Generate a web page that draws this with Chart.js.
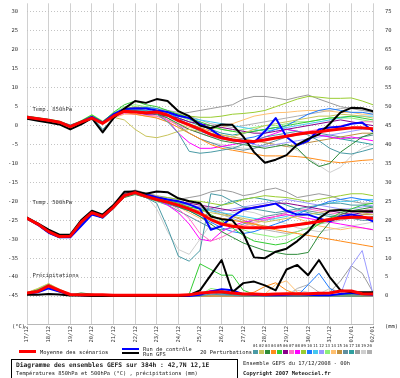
<!DOCTYPE html>
<html><head><meta charset="utf-8">
<script src="https://cdn.jsdelivr.net/npm/chart.js@4"></script>
<style>
body{margin:0;background:#fff;width:400px;height:378px;overflow:hidden;position:relative;font-family:"DejaVu Sans Mono",monospace;color:#222}
#wrap{position:absolute;left:0;top:0;width:400px;height:347px}
.t{position:absolute;white-space:nowrap;font-size:5.4px;line-height:6px}
.b{font-weight:bold}
.ln{position:absolute}
#boxes span{position:absolute;display:block}
</style></head>
<body>
<div id="wrap"><canvas id="c" width="400" height="347"></canvas></div>
<span class="t" style="left:12px;top:323px">(°C)</span>
<span class="t" style="left:385px;top:323px">(mm)</span>
<div class="ln" style="left:19px;top:350px;width:17px;height:3px;background:#ff0000"></div>
<span class="t" style="left:40px;top:349px">Moyenne des scénarios</span>
<div class="ln" style="left:122px;top:347.5px;width:17px;height:2px;background:#0000ff"></div>
<div class="ln" style="left:122px;top:351.5px;width:17px;height:2px;background:#000"></div>
<span class="t" style="left:143px;top:345.5px">Run de contrôle</span>
<span class="t" style="left:143px;top:350.5px">Run GFS</span>
<span class="t" style="left:200px;top:349px">20 Perturbations</span>
<div id="boxes" style="position:absolute;left:253px;top:344px"></div>
<div style="position:absolute;left:11px;top:359px;width:225px;height:30px;border:1px solid #000"></div>
<span class="t b" style="left:16px;top:360.5px;font-size:6.3px;line-height:7px">Diagramme des ensembles GEFS sur 384h : 42,7N 12,1E</span>
<span class="t" style="left:16px;top:369.5px">Températures 850hPa et 500hPa (°C) , précipitations (mm)</span>
<span class="t" style="left:243px;top:359.5px">Ensemble GEFS du 17/12/2008 - 00h</span>
<span class="t b" style="left:243px;top:369.5px">Copyright 2007 Meteociel.fr</span>
<script>
// ---- time axis (forecast hours) and tick labels ----
const hours=[0,12,24,36,48,60,72,84,96,108,120,132,144,156,168,180,192,204,216,228,240,252,264,276,288,300,312,324,336,348,360,372,384];
const dateLabels=['17/12','18/12','19/12','20/12','21/12','22/12','23/12','24/12','25/12','26/12','27/12','28/12','29/12','30/12','31/12','01/01','02/01'];
const tempTicks=[-45,-40,-35,-30,-25,-20,-15,-10,-5,0,5,10,15,20,25,30];
const precipTicks=[0,5,10,15,20,25,30,35,40,45,50,55,60,65,70,75];
const memberNames=['01','02','03','04','05','06','07','08','09','10','11','12','13','14','15','16','17','18','19','20'];
const memberColors=['#4a9aa5','#c8c35a','#2e8b3a','#ff8c1a','#33cc33','#8a008a','#ff6fc8','#ff00ff','#9acd32','#1e7bff','#46c8f0','#9a9aff','#8cf078','#ffc070','#c09040','#5f8f9f','#2f9f9f','#9a9a9a','#cfcfcf','#b0b0b0'];

// ---- 850 hPa temperature (°C) ----
const t850Mean=[2.2,1.8,1.4,0.9,-0.3,0.9,2.0,0.6,2.5,3.8,3.6,3.4,3.6,2.8,1.3,0.2,-1.0,-2.3,-3.2,-3.8,-4.1,-4.2,-3.8,-3.3,-2.8,-2.3,-1.9,-1.6,-1.2,-0.9,-0.6,-0.6,-0.8];
const t850Control=[2.2,1.8,1.4,0.9,-0.2,1.0,2.3,0.8,3.0,4.4,4.6,4.5,4.0,3.6,2.6,2.0,0.5,-1.0,-3.0,-3.8,-4.2,-4.5,-1.5,2.0,-3.0,-5.2,-4.0,-1.0,-0.5,-0.3,0.5,0.8,-1.5];
const t850Gfs=[1.8,1.3,0.8,0.3,-1.0,0.3,2.0,-1.8,2.0,4.5,6.5,6.0,7.0,6.5,3.8,2.5,0.0,-0.7,0.3,0.2,-2.9,-7.0,-9.8,-9.0,-7.8,-5.0,-3.5,-2.3,0.5,3.5,4.7,4.6,3.8];
const t850Members=[
[2.5,2.0,1.6,1.0,0.2,1.0,2.4,-1.2,1.8,4.0,4.2,4.0,3.0,1.0,-2.0,-6.8,-7.3,-7.0,-6.5,-6.0,-5.0,-4.0,-3.0,-2.5,-2.0,-1.5,-2.5,-4.0,-6.0,-7.2,-7.5,-6.8,-6.0],
[2.0,1.7,1.3,0.8,-0.5,0.6,1.8,1.0,2.2,1.5,-1.0,-2.8,-3.2,-2.5,-1.5,-1.0,-1.5,-2.0,-2.5,-3.0,-2.0,-1.0,0.0,0.5,1.0,1.5,2.0,2.5,2.5,3.0,2.8,2.5,2.0],
[2.3,1.9,1.5,1.0,-0.2,0.8,2.2,0.5,2.8,4.2,4.0,3.5,3.0,2.0,0.5,-1.0,-2.0,-3.0,-4.0,-4.5,-5.0,-5.5,-6.0,-5.5,-5.0,-6.0,-9.0,-10.8,-10.0,-7.0,-5.0,-3.0,-2.0],
[2.1,1.7,1.3,0.9,-0.3,1.0,2.0,0.8,2.6,3.5,3.0,2.5,2.0,1.0,-0.5,-2.0,-3.5,-5.0,-6.0,-6.5,-7.0,-7.5,-8.0,-8.0,-8.0,-8.2,-8.5,-9.0,-9.5,-9.8,-9.5,-9.2,-9.0],
[2.4,2.0,1.6,1.1,0.0,1.2,2.8,1.0,3.5,5.5,6.5,5.5,5.0,4.0,3.0,2.0,1.0,0.0,-1.0,-1.5,-2.0,-1.5,-1.0,-0.5,0.0,0.5,1.0,1.5,2.0,2.2,2.5,2.0,1.5],
[2.2,1.8,1.4,0.9,-0.4,0.7,2.0,0.4,2.4,3.5,3.5,3.0,3.0,2.5,2.0,1.0,0.5,0.0,-0.5,-1.0,-1.5,-2.0,-2.0,-1.5,-1.0,-0.5,0.0,0.5,1.0,1.5,1.0,0.5,0.0],
[2.0,1.6,1.2,0.8,-0.5,0.8,2.5,0.6,2.2,3.2,3.0,2.8,2.5,1.5,0.0,-1.0,-2.0,-3.0,-3.5,-4.0,-4.5,-4.0,-3.5,-3.0,-2.5,-2.0,-1.5,-1.0,-0.5,0.0,0.5,1.0,1.0],
[2.3,1.9,1.4,0.9,-0.2,1.0,2.3,0.7,2.6,3.6,3.5,3.5,3.0,1.5,-2.0,-4.5,-6.0,-6.0,-5.5,-5.0,-4.5,-4.0,-3.0,-2.0,-1.0,-1.5,-2.0,-2.5,-3.0,-3.5,-3.0,-3.5,-4.0],
[2.4,2.0,1.5,1.0,0.0,1.1,2.6,0.9,3.0,4.5,5.0,4.5,4.0,3.5,3.0,2.5,2.2,2.2,2.5,3.0,3.2,3.5,4.0,5.0,6.0,7.0,7.7,7.5,7.2,7.2,7.3,6.5,5.5],
[2.2,1.8,1.4,0.9,-0.3,0.9,2.1,0.5,2.7,4.0,4.5,4.8,4.5,3.5,2.0,0.0,-1.5,-2.5,-3.5,-4.0,-3.5,-3.0,-2.0,-1.0,0.0,1.5,3.0,4.0,4.5,4.0,3.5,3.5,3.0],
[2.1,1.7,1.3,0.8,-0.4,0.8,1.9,0.8,2.4,3.8,4.0,4.0,3.5,3.0,2.5,2.0,1.5,1.0,0.5,0.0,-0.5,-1.0,-1.5,-1.0,-0.5,0.0,0.5,1.0,1.5,2.0,2.5,2.5,2.5],
[2.3,1.9,1.5,1.0,-0.1,1.0,2.2,0.8,2.9,4.1,4.2,3.8,3.5,2.5,1.0,0.0,-1.0,-2.0,-3.0,-3.5,-4.0,-5.0,-5.5,-5.0,-4.5,-4.0,-3.5,-3.0,-2.5,-2.0,-1.5,-1.0,-1.0],
[2.5,2.1,1.7,1.2,0.1,1.3,2.9,1.2,3.3,5.0,5.5,5.0,4.5,3.5,2.5,1.5,0.5,-0.5,-1.0,-1.5,-1.0,-0.5,0.0,0.0,0.5,1.0,1.0,1.5,2.0,2.0,2.0,1.5,1.0],
[2.0,1.6,1.2,0.7,-0.6,0.6,1.7,0.3,2.0,3.0,3.0,2.5,2.5,1.5,0.5,-0.5,-1.0,-1.0,-0.5,0.5,1.5,2.5,3.0,3.4,3.5,3.8,4.0,4.0,3.8,3.5,3.5,3.0,3.0],
[2.2,1.8,1.4,0.9,-0.2,0.9,2.1,0.6,2.5,3.9,3.8,3.5,3.0,2.5,1.5,0.5,-0.5,-1.5,-2.5,-3.0,-3.5,-4.0,-4.5,-5.0,-5.5,-5.0,-4.5,-4.0,-3.5,-3.0,-2.5,-2.0,-2.0],
[2.4,2.0,1.6,1.1,0.0,1.1,2.5,-1.0,2.0,4.2,4.5,4.0,3.5,2.0,0.0,-2.0,-3.5,-4.5,-5.5,-6.0,-6.5,-6.0,-5.0,-4.0,-3.0,-2.5,-2.0,-2.0,-2.5,-3.0,-3.5,-3.0,-2.5],
[2.1,1.7,1.3,0.8,-0.3,0.8,2.0,0.6,2.4,3.7,3.7,4.0,3.5,3.0,2.0,1.0,0.0,-1.0,-2.0,-2.5,-2.0,-1.5,-1.0,-0.5,-1.0,-1.5,-2.0,-2.5,-3.0,-3.5,-4.0,-4.5,-5.0],
[2.3,1.9,1.5,1.0,-0.1,1.0,2.3,0.7,2.7,4.0,4.5,4.5,4.0,3.5,3.0,3.5,4.0,4.5,5.0,5.5,7.0,7.7,7.7,7.3,6.8,7.5,8.1,7.0,6.0,5.0,4.5,4.0,3.5],
[2.2,1.8,1.4,0.9,-0.3,0.9,2.0,0.5,2.5,3.8,3.5,3.0,2.0,1.0,-0.5,-2.0,-3.5,-4.5,-5.0,-5.5,-6.0,-6.0,-5.5,-5.0,-5.5,-6.5,-8.5,-10.5,-12.4,-11.0,-8.0,-6.0,-5.0],
[2.4,2.0,1.5,1.0,0.0,1.0,2.4,0.8,2.8,4.3,4.8,5.0,4.5,4.0,3.5,2.5,1.5,0.5,0.0,-0.5,0.0,0.5,1.0,1.5,2.0,2.5,3.0,3.5,4.0,4.5,4.8,4.5,4.0]];

// ---- 500 hPa temperature (°C) ----
const t500Mean=[-24.5,-26.0,-28.0,-29.3,-29.2,-25.5,-23.0,-24.0,-21.5,-18.5,-17.7,-18.7,-19.5,-20.2,-21.0,-22.0,-23.2,-24.8,-26.0,-26.6,-26.9,-27.0,-27.0,-26.9,-26.6,-26.2,-25.8,-25.3,-24.8,-24.4,-24.2,-24.2,-24.5];
const t500Control=[-24.5,-26.2,-28.3,-29.5,-29.5,-26.5,-23.5,-24.3,-21.5,-18.5,-17.5,-18.2,-19.0,-19.5,-20.0,-20.8,-22.0,-27.5,-26.5,-24.0,-22.2,-21.7,-21.2,-20.6,-22.5,-23.5,-23.5,-24.5,-25.3,-24.0,-23.5,-24.0,-25.3];
const t500Gfs=[-24.3,-25.8,-27.5,-28.8,-28.8,-25.0,-22.5,-23.5,-21.0,-17.5,-17.4,-18.0,-17.4,-17.6,-19.2,-20.0,-20.5,-24.0,-24.7,-25.0,-28.5,-34.8,-35.0,-33.3,-32.5,-30.5,-28.0,-24.5,-22.5,-22.3,-22.6,-22.6,-22.6];
const t500Members=[
[-24.8,-26.3,-28.4,-29.6,-29.4,-26.0,-23.2,-24.5,-22.0,-18.8,-18.0,-19.0,-20.5,-27.0,-34.5,-35.8,-33.0,-18.0,-18.5,-20.0,-21.5,-22.0,-22.5,-23.0,-22.5,-22.0,-21.5,-21.0,-20.5,-20.5,-21.0,-21.0,-21.5],
[-24.6,-26.1,-28.1,-29.4,-29.3,-25.7,-23.1,-24.1,-21.6,-18.7,-17.9,-18.8,-19.6,-20.3,-21.0,-21.8,-22.5,-23.0,-23.5,-24.0,-24.5,-25.0,-25.5,-25.0,-24.5,-24.0,-23.5,-23.0,-22.5,-22.0,-22.5,-23.0,-23.5],
[-24.7,-26.2,-28.2,-29.5,-29.5,-26.0,-23.5,-24.3,-21.8,-19.0,-18.2,-19.0,-19.8,-20.5,-21.5,-22.5,-24.0,-26.0,-28.0,-29.5,-31.0,-32.0,-33.0,-33.5,-34.0,-34.0,-33.5,-29.0,-25.5,-23.5,-22.5,-22.0,-21.5],
[-24.5,-26.0,-28.0,-29.3,-29.2,-25.4,-22.9,-23.9,-21.4,-18.4,-17.6,-18.6,-19.4,-20.0,-21.0,-22.0,-23.0,-24.0,-24.5,-25.0,-25.5,-26.0,-27.0,-27.5,-28.0,-28.5,-29.0,-29.5,-30.0,-30.5,-31.0,-31.5,-32.0],
[-24.6,-26.0,-28.0,-29.4,-29.3,-25.7,-23.0,-24.0,-21.5,-18.2,-17.5,-18.5,-19.3,-19.8,-20.5,-21.5,-22.0,-23.5,-25.0,-27.0,-29.0,-30.5,-31.0,-31.5,-31.0,-29.5,-28.0,-26.0,-24.5,-23.0,-22.0,-21.0,-20.5],
[-24.3,-25.8,-27.8,-29.1,-29.0,-25.0,-22.6,-23.6,-21.0,-18.0,-17.2,-18.0,-18.8,-19.5,-20.0,-20.5,-21.0,-21.5,-22.0,-22.5,-22.0,-21.5,-21.0,-20.5,-20.5,-21.0,-21.5,-22.0,-22.5,-23.0,-23.5,-23.0,-23.0],
[-24.5,-26.0,-28.1,-29.5,-29.4,-25.6,-23.1,-24.1,-21.6,-18.6,-17.8,-18.8,-19.6,-20.4,-22.0,-24.5,-28.5,-30.5,-29.5,-28.0,-26.5,-25.5,-25.0,-24.0,-23.0,-22.5,-22.0,-22.5,-23.0,-23.5,-23.0,-22.5,-22.0],
[-24.4,-25.9,-27.9,-29.2,-29.1,-25.3,-22.8,-23.8,-21.3,-18.3,-17.5,-18.5,-19.5,-21.0,-23.0,-26.0,-30.0,-30.5,-28.0,-26.5,-25.5,-25.0,-24.5,-24.0,-23.5,-24.0,-24.5,-25.0,-25.5,-26.0,-26.5,-27.0,-27.5],
[-24.4,-25.9,-27.8,-29.1,-29.0,-25.2,-22.7,-23.7,-21.0,-18.0,-17.2,-18.0,-18.8,-19.0,-19.5,-19.8,-20.0,-20.5,-21.0,-20.5,-19.5,-19.0,-18.5,-18.8,-19.0,-19.5,-20.0,-19.5,-19.0,-18.5,-18.0,-18.0,-18.5],
[-24.6,-26.2,-28.2,-29.5,-29.4,-25.8,-23.2,-24.2,-21.7,-18.7,-17.8,-18.8,-19.8,-20.8,-21.5,-22.5,-24.0,-25.5,-27.0,-28.0,-28.5,-28.0,-27.0,-26.0,-25.0,-23.5,-22.0,-21.0,-20.0,-19.5,-19.0,-19.5,-20.0],
[-24.5,-26.1,-28.0,-29.3,-29.3,-25.5,-23.0,-24.0,-21.5,-18.5,-17.6,-18.6,-19.4,-20.2,-21.0,-21.5,-22.0,-22.5,-23.0,-23.5,-24.0,-24.5,-25.0,-24.5,-24.0,-23.0,-22.0,-21.0,-20.5,-20.0,-20.0,-19.5,-19.5],
[-24.3,-25.9,-27.9,-29.2,-29.2,-25.3,-22.8,-23.8,-21.2,-18.2,-17.4,-18.3,-19.0,-19.5,-20.5,-21.0,-21.5,-22.0,-22.5,-22.0,-21.5,-21.0,-20.5,-20.0,-19.5,-20.0,-20.5,-21.0,-21.5,-22.0,-22.0,-21.5,-21.0],
[-24.7,-26.3,-28.3,-29.6,-29.5,-26.0,-23.4,-24.4,-21.9,-18.9,-18.0,-19.0,-20.0,-20.8,-21.5,-22.5,-23.5,-24.5,-25.5,-26.5,-27.5,-28.5,-29.0,-29.5,-29.0,-28.0,-27.0,-26.0,-25.0,-24.0,-23.0,-22.5,-22.0],
[-24.5,-26.0,-28.0,-29.3,-29.2,-25.6,-23.0,-24.1,-21.5,-18.6,-17.7,-18.7,-19.5,-20.5,-21.5,-23.0,-24.5,-25.0,-25.5,-26.0,-26.5,-26.0,-25.0,-24.0,-23.5,-24.5,-25.5,-26.5,-27.0,-27.5,-27.0,-27.0,-27.5],
[-24.4,-25.8,-27.8,-29.1,-29.0,-25.1,-22.6,-23.6,-21.0,-18.1,-17.3,-18.2,-19.0,-19.8,-20.5,-21.0,-21.5,-22.0,-23.0,-24.0,-25.0,-26.0,-26.5,-27.0,-26.5,-26.0,-25.5,-25.0,-24.5,-24.0,-24.0,-23.5,-23.5],
[-24.6,-26.2,-28.2,-29.5,-29.4,-25.9,-23.3,-24.3,-21.8,-18.8,-18.0,-19.0,-20.0,-21.0,-22.5,-24.0,-25.5,-27.0,-27.5,-27.0,-26.0,-25.0,-24.0,-23.5,-23.0,-22.5,-22.5,-23.0,-23.5,-24.0,-24.5,-25.0,-25.0],
[-24.5,-26.1,-28.1,-29.4,-29.3,-25.6,-23.1,-24.1,-21.6,-18.6,-17.7,-18.6,-19.5,-20.5,-21.5,-22.0,-22.5,-22.0,-21.0,-20.0,-19.5,-19.0,-19.5,-20.0,-21.0,-22.0,-23.0,-23.5,-24.0,-24.0,-24.5,-24.5,-24.0],
[-24.3,-25.8,-27.8,-29.0,-28.9,-25.0,-22.5,-23.5,-21.0,-18.0,-17.0,-17.8,-18.5,-19.0,-19.5,-19.0,-18.5,-17.5,-17.0,-17.5,-18.5,-18.0,-17.0,-16.5,-17.5,-19.0,-18.5,-18.0,-18.5,-19.5,-20.0,-20.5,-20.5],
[-24.6,-26.1,-28.1,-29.4,-29.3,-25.8,-23.3,-24.2,-21.8,-18.6,-17.9,-18.5,-22.0,-28.0,-32.7,-34.0,-30.0,-26.0,-24.0,-23.0,-22.5,-23.0,-24.0,-25.0,-26.0,-27.0,-27.5,-28.0,-27.5,-27.0,-26.5,-26.0,-25.5],
[-24.4,-25.9,-27.9,-29.2,-29.1,-25.2,-22.8,-23.8,-21.2,-18.2,-17.4,-18.3,-19.0,-19.6,-20.3,-21.0,-21.8,-22.5,-23.5,-24.5,-25.5,-26.5,-27.5,-28.0,-28.5,-28.0,-27.0,-26.0,-25.5,-25.0,-24.5,-24.5,-24.5]];

// ---- precipitation (mm, right axis) ----
const precipMean=[0.8,1.2,2.7,1.5,0.4,0.3,0.3,0.3,0.2,0.2,0.2, 0.2,0.2,0.2,0.2,0.3,0.8,1.0,1.1,0.8,0.5,0.5, 0.4,0.5,0.6,0.6,0.6,0.7,0.8,1.3,1.3,0.6,0.5];
const precipControl=[0.6,1.0,2.0,1.2,0.3,0.2,0.1,0.1,0,0,0, 0,0,0,0,0,0.3,1.2,1.8,1.5,0.5,0.3, 0.2,0.2,0.3,0.5,0.3,0.2,0.2,0.5,0.8,0.5,0.3];
const precipGfs=[0.3,0.3,0.5,0.4,0.1,0.1,0,0,0,0,0, 0,0,0,0,0.2,1.5,5.5,9.5,1.0,3.4,3.8, 2.8,1.5,7.0,8.2,5.5,9.5,5.0,1.5,1.0,1.0,1.0];
const precipMembers=[
[0.7,1.5,3.0,1.5,0.3,0.2,0.1,0,0,0,0, 0,0,0,0,0,0,0.5,0.3,0.2,0,0, 0,0,0,0,0,0,0,0,0,0,0],
[0.9,2.0,3.3,1.8,0.5,0.3,0.2,0.1,0,0,0, 0,0,0,0,0,0,0,0,0,0,0, 0,0,0.2,0.5,0.3,0,0,0,0,0,0],
[0.8,1.6,2.6,1.2,0.3,0.8,0.5,0.1,0,0,0, 0,0,0,0,0,0.5,1.2,0.8,0.3,0,0, 0,0,0,0,0,0,0,0,0,0,0.5],
[0.6,1.2,2.2,1.0,0.2,0.1,0,0,0,0,0, 0,0,0,0,0,0,0,0,0,0.5,1.0, 2.5,3.5,1.5,0.5,0,0,0,0,0,0,0],
[0.7,1.4,2.8,1.4,0.4,0.2,0.1,0,0,0,0, 0,0,0,0,0.5,8.5,7.0,5.5,5.5,1.5,0.5, 0.3,0.2,0.2,0.3,0.5,0.3,0.2,0.2,0.5,0.8,1.0],
[0.8,1.5,2.5,1.3,0.3,0.2,0.1,0,0,0,0, 0,0,0,0,0,0,0,0,0,0,0, 0,0,0,0,0,0,0,0,0,0,0],
[0.6,1.3,2.4,1.1,0.3,0.1,0,0,0,0,0, 0,0,0,0,0,1.0,0.5,0.2,0,0,0, 0,0,0,0,0,0,0,0,0,0,0],
[0.7,1.4,2.9,1.6,0.5,0.3,0.1,0,0,0,0, 0,0,0,0,0,0.5,1.5,1.0,0.3,0,0, 0,0,0,0,0,0,0,0,0,0,0],
[0.9,1.8,3.2,1.7,0.4,0.2,0.1,0,0,0,0, 0,0,0,0,0,0,0,0,0,0,0, 0,0,0,0,0,0,0,0,0,0,0],
[0.7,1.5,2.7,1.3,0.3,0.2,0.1,0,0,0,0, 0,0,0,0,0,0,0.3,0.5,0.3,0,0, 0,0,0,0,3.0,6.0,2.0,0.5,0,0,0],
[0.8,1.6,3.0,1.5,0.4,0.2,0.1,0,0,0,0, 0,0,0,0,0,0,0,0.5,1.0,0.5,0, 0,0,0,0,0,0,0,0,0,0,0],
[0.6,1.2,2.3,1.2,0.3,0.1,0,0,0,0,0, 0,0,0,0,0,0,0,0,0,0,0, 0,0,0,0,0,0,0,0.5,8.0,12.0,0.5],
[0.7,1.4,2.6,1.2,0.3,0.2,0.1,0,0,0,0, 0,0,0,0,0,0.3,2.0,1.5,0.5,0,0, 0,0,0,0,0,0,0,0,0,0,0],
[0.8,1.5,2.8,1.4,0.4,0.2,0.1,0,0,0,0, 0,0,0,0,0,0,0,0,0,0,0, 0.5,3.0,4.0,1.0,0.2,0,0,0,0,0,0],
[0.6,1.3,2.5,1.2,0.3,0.1,0,0,0,0,0, 0,0,0,0,0,0,0,0,0,0,0, 0,0,0,0,0,0,0,0,0,0,0],
[0.7,1.6,2.9,1.5,0.4,0.2,0.1,0,0,0,0, 0,0,0,0,0,0,0.5,0.8,0.5,0.2,0, 0,0,0,0,0,0,0,0,0.5,0.3,0],
[0.8,1.5,2.6,1.3,0.3,0.2,0.1,0,0,0,0, 0,0,0,0,0,0,0,0,0,0,0, 0,0,0,0,0,0,0,0,0,0,0],
[0.7,1.4,2.7,1.4,0.3,0.2,0.1,0,0,0,0, 0,0,0,0,0,0,0,0,0,0,0, 0,0,0,0,0,0,1.0,4.0,8.0,6.0,1.0],
[0.6,1.2,2.4,1.1,0.2,0.1,0,0,0,0,0, 0,0,0,0,0,0,0,0,0,0,0, 0,0,0.5,1.5,1.0,0.5,2.0,1.0,0.3,0,0],
[0.9,1.7,3.1,1.6,0.4,0.2,0.1,0,0,0,0, 0,0,0,0,0,0,0,0,0,0,0, 0,0,0,2.0,3.0,1.0,0,0,0,0,0]];

// ---- build datasets ----
const pts=a=>a.map((v,i)=>({x:hours[i]/24,y:v}));
const datasets=[];
function group(members,control,gfs,mean,axis){
  members.forEach((m,k)=>datasets.push({data:pts(m),yAxisID:axis,borderColor:memberColors[k],borderWidth:1,order:10}));
  datasets.push({data:pts(control),yAxisID:axis,borderColor:'#0000ff',borderWidth:2,order:3});
  datasets.push({data:pts(gfs),yAxisID:axis,borderColor:'#000000',borderWidth:2,order:2});
  datasets.push({data:pts(mean),yAxisID:axis,borderColor:'#ff0000',borderWidth:3,order:1});
}
group(t850Members,t850Control,t850Gfs,t850Mean,'y');
group(t500Members,t500Control,t500Gfs,t500Mean,'y');
group(precipMembers,precipControl,precipGfs,precipMean,'y2');

const tickFont={family:'DejaVu Sans Mono',size:5.5};
// place 30 °C at pixel 12 and -45 °C at pixel 296, right axis = left + 45
const alignY={id:'alignY',afterLayout(c){
  const a=c.chartArea,k=(296-12)/75;
  const max=30+(12-a.top)/k,min=-45-(a.bottom-296)/k;
  const y=c.scales.y,y2=c.scales.y2;
  y.min=min;y.max=max;y.configure();
  y2.min=min+45;y2.max=max+45;y2.configure();
}};
const panelLabels={id:'panelLabels',afterDatasetsDraw(c){
  const ctx=c.ctx,x=c.scales.x.getPixelForValue(0.25),y=c.scales.y;
  ctx.save();ctx.font='5.5px "DejaVu Sans Mono"';ctx.fillStyle='#333';ctx.textBaseline='middle';
  ctx.fillText('Temp. 850hPa',x,y.getPixelForValue(4.35));
  ctx.fillText('Temp. 500hPa',x,y.getPixelForValue(-20.4));
  ctx.fillText('Précipitations',x,y.getPixelForValue(-39.7));
  ctx.restore();}};

new Chart(document.getElementById('c'),{
  type:'line',
  data:{datasets},
  options:{
    responsive:false,animation:false,events:[],
    layout:{padding:{top:0,left:0,right:0,bottom:0}},
    plugins:{legend:{display:false},tooltip:{enabled:false}},
    elements:{point:{radius:0},line:{tension:0,borderJoinStyle:'round',borderCapStyle:'round'}},
    scales:{
      x:{type:'linear',min:0,max:16,
        afterBuildTicks:s=>{s.ticks=dateLabels.map((_,i)=>({value:i}));},
        afterFit:s=>{s.height=23;},
        ticks:{autoSkip:false,maxRotation:90,minRotation:90,padding:2,font:tickFont,color:'#333',callback:(v,i)=>dateLabels[i]},
        grid:{color:'#d0d0d0',lineWidth:1,drawTicks:false},
        border:{display:true,color:'#b8b8b8'}},
      y:{position:'left',min:-52.39,max:32.64,
        afterBuildTicks:s=>{s.ticks=tempTicks.map(v=>({value:v}));},
        afterFit:s=>{s.width=27;},
        ticks:{padding:0,font:tickFont,color:'#333'},
        grid:{color:'#c4c4c4',lineWidth:1,drawTicks:true,tickLength:9,tickColor:'rgba(0,0,0,0)'},
        border:{display:false,dash:[1,2]}},
      y2:{position:'right',min:-7.39,max:77.64,
        afterBuildTicks:s=>{s.ticks=precipTicks.map(v=>({value:v}));},
        afterFit:s=>{s.width=27;},
        ticks:{padding:0,font:tickFont,color:'#333'},
        grid:{drawOnChartArea:false,drawTicks:true,tickLength:12,tickColor:'rgba(0,0,0,0)'},
        border:{display:false}}
    }
  },
  plugins:[alignY,panelLabels]
});

// perturbation colour key
const boxes=document.getElementById('boxes');
memberNames.forEach((n,k)=>{
  const lab=document.createElement('span');lab.textContent=n;
  lab.style.cssText='left:'+(k*6)+'px;top:0;font-size:4px;line-height:4px;white-space:nowrap';
  const sw=document.createElement('span');
  sw.style.cssText='left:'+(k*6)+'px;top:6px;width:5px;height:4px;background:'+memberColors[k];
  boxes.appendChild(lab);boxes.appendChild(sw);
});
</script>
</body></html>
